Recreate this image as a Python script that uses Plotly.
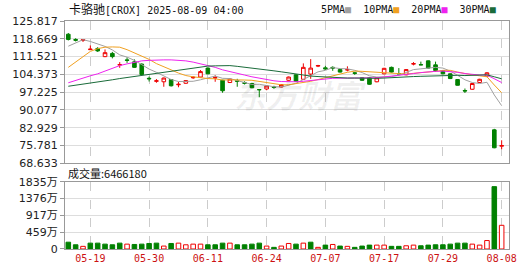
import plotly.graph_objects as go

dates = ["2025-05-14","2025-05-15","2025-05-16","2025-05-19","2025-05-20","2025-05-21","2025-05-22","2025-05-23",
         "2025-05-27","2025-05-28","2025-05-29","2025-05-30",
         "2025-06-02","2025-06-03","2025-06-04","2025-06-05","2025-06-06","2025-06-09","2025-06-10","2025-06-11",
         "2025-06-12","2025-06-13","2025-06-16","2025-06-17","2025-06-18","2025-06-20","2025-06-23","2025-06-24",
         "2025-06-25","2025-06-26","2025-06-27","2025-06-30",
         "2025-07-01","2025-07-02","2025-07-03","2025-07-07","2025-07-08","2025-07-09","2025-07-10","2025-07-11",
         "2025-07-14","2025-07-15","2025-07-16","2025-07-17","2025-07-18","2025-07-21","2025-07-22","2025-07-23",
         "2025-07-24","2025-07-25","2025-07-28","2025-07-29","2025-07-30","2025-07-31",
         "2025-08-01","2025-08-04","2025-08-05","2025-08-06","2025-08-07","2025-08-08"]

opens  = [120.5,118.4,118.0,114.3,114.8,111.5,112.8,108.1,110.2,109.4,108.5,102.8,101.6,101.4,102.3,100.2,100.8,103.0,103.3,106.9,
          102.9,102.0,101.1,101.8,101.0,100.7,98.3,98.5,99.3,99.3,102.0,104.2,102.4,104.5,107.7,107.0,107.2,106.3,106.1,105.0,
          103.0,103.0,101.4,104.6,107.2,104.7,104.2,108.5,108.3,109.8,108.2,105.9,104.6,102.3,97.9,98.4,101.1,103.7,82.1,75.5]
highs  = [121.0,118.9,118.6,116.0,115.3,114.4,113.4,109.3,111.2,110.4,108.8,103.5,102.5,103.1,102.5,101.3,102.1,103.6,106.1,107.2,
          104.0,102.2,102.8,102.6,101.6,101.0,98.4,100.0,99.8,100.5,103.5,104.4,108.8,110.5,108.2,107.8,107.6,106.5,107.6,105.4,
          103.2,103.2,103.3,107.0,107.5,106.9,106.5,109.3,109.5,110.0,109.5,106.1,104.8,102.5,98.7,100.9,102.6,105.3,82.5,77.9]
lows   = [118.0,117.6,117.4,114.2,113.4,111.3,110.8,107.0,109.0,107.0,104.2,101.5,101.0,99.4,99.5,99.2,100.6,102.6,103.1,104.4,
          101.4,97.0,100.9,99.4,100.3,98.8,95.2,98.0,98.6,99.1,101.8,101.4,102.2,102.6,107.3,106.2,105.8,105.1,105.6,104.2,
          101.8,100.2,101.2,104.4,105.1,104.5,104.0,108.0,108.1,106.7,105.4,104.4,102.5,99.9,96.9,98.2,100.9,103.5,74.7,74.3]
closes = [118.4,118.1,118.3,114.5,113.8,113.1,111.5,108.3,110.0,107.2,104.3,102.6,101.8,102.9,99.8,100.4,101.9,103.2,105.5,104.6,
          103.1,97.8,102.5,101.6,100.8,99.0,98.2,99.7,99.1,100.3,103.3,101.6,107.2,106.9,107.9,106.6,106.9,105.3,106.3,104.8,
          102.0,100.4,103.0,106.8,105.3,104.6,106.3,108.7,108.2,106.9,105.9,104.6,102.7,100.0,97.7,100.7,102.4,105.0,74.9,75.8]

ma5  = [115.7,117.0,118.3,117.6,116.6,115.6,114.2,112.2,111.3,110.0,108.3,106.5,105.2,103.8,102.3,101.5,101.4,101.6,102.2,103.1,
        103.7,102.8,102.7,101.9,101.2,100.3,100.4,99.9,99.4,99.3,100.1,100.8,102.3,103.9,105.4,106.0,107.1,106.7,106.6,106.0,
        105.1,103.8,103.3,103.4,103.5,104.0,105.2,106.3,106.6,106.9,107.2,106.9,105.7,104.0,102.2,101.1,100.7,101.2,96.1,91.8]
ma10 = [107.2,109.4,111.7,113.6,114.7,115.3,115.4,115.3,114.3,113.0,111.9,110.4,108.7,107.6,106.2,104.9,103.9,103.4,103.0,102.7,
        102.6,102.1,102.2,102.0,102.1,102.0,101.6,101.3,100.6,100.2,100.2,100.6,101.1,101.6,102.3,103.1,104.0,104.5,105.2,105.7,
        105.6,105.4,105.0,105.0,104.7,104.5,104.5,104.8,105.0,105.2,105.6,106.0,106.0,105.3,104.6,104.2,103.8,103.4,100.1,97.0]
ma20 = [101.0,102.0,103.0,103.8,104.6,105.8,107.0,107.9,108.6,109.3,109.8,110.0,110.2,110.2,110.2,110.0,109.8,109.3,108.7,108.0,
        107.2,106.2,105.4,104.8,104.1,103.4,102.8,102.3,101.8,101.5,101.4,101.4,101.6,101.8,102.2,102.5,102.8,102.9,102.9,102.9,
        102.9,103.0,103.0,103.3,103.5,103.8,104.2,104.7,105.1,105.5,105.6,105.7,105.5,105.2,104.7,104.4,104.1,104.1,102.5,101.1]
ma30 = [99.6,100.0,100.4,100.8,101.2,101.7,102.2,102.7,103.1,103.6,104.0,104.4,104.8,105.2,105.6,106.0,106.6,107.0,107.4,107.7,
        107.8,107.9,107.9,107.6,107.3,106.9,106.5,106.2,105.8,105.4,104.9,104.4,104.0,103.7,103.5,103.3,103.2,103.1,102.9,102.9,
        102.8,102.7,102.8,102.9,103.1,103.2,103.4,103.5,103.6,103.7,103.8,104.0,104.0,104.0,103.9,103.9,104.1,104.2,103.4,102.6]

# volume in units of 万 shares
volume = [186,115,72,160,160,133,115,160,133,124,133,151,160,80,151,160,115,133,133,115,
          115,160,160,115,115,133,160,80,45,80,151,133,160,186,45,106,124,80,72,45,
          80,106,106,106,72,72,88,106,88,106,115,115,133,160,160,133,106,231,1702,646.618]

price_ticks = [68.633, 75.781, 82.929, 90.077, 97.225, 104.373, 111.521, 118.669, 125.817]
vol_ticks = [0, 459, 917, 1376, 1835]
vol_tick_text = ["0", "459万", "917万", "1376万", "1835万"]
x_tick_dates = ["2025-05-19", "2025-05-30", "2025-06-11", "2025-06-24", "2025-07-07", "2025-07-17", "2025-07-29", "2025-08-08"]
x_tick_text = ["05-19", "05-30", "06-11", "06-24", "07-07", "07-17", "07-29", "08-08"]

RED = "#ee0000"
GREEN = "#008000"
MA_COLORS = {"5PMA": "#a0a0a0", "10PMA": "#f0a020", "20PMA": "#ee22ee", "30PMA": "#1a6b3a"}

fig = go.Figure()

fig.add_trace(go.Candlestick(
    x=dates, open=opens, high=highs, low=lows, close=closes,
    increasing=dict(line=dict(color=RED, width=1), fillcolor="white"),
    decreasing=dict(line=dict(color=GREEN, width=1), fillcolor=GREEN),
    xaxis="x", yaxis="y", showlegend=False, hoverinfo="skip"))

for name, vals in [("5PMA", ma5), ("10PMA", ma10), ("20PMA", ma20), ("30PMA", ma30)]:
    fig.add_trace(go.Scatter(x=dates, y=vals, mode="lines", line=dict(color=MA_COLORS[name], width=1),
                             xaxis="x", yaxis="y", showlegend=False, hoverinfo="skip"))

vol_fill, vol_line = [], []
for i in range(len(volume)):
    ref = closes[i - 1] if i > 0 else opens[i]
    up = closes[i] > ref
    vol_fill.append("white" if up else GREEN)
    vol_line.append(RED if up else GREEN)

fig.add_trace(go.Bar(x=dates, y=volume, width=0.62,
                     marker=dict(color=vol_fill, line=dict(color=vol_line, width=1)),
                     xaxis="x2", yaxis="y2", showlegend=False, hoverinfo="skip"))

L, R, T, B = 55, 21, 21, 21
W, H = 530, 276
PH = H - T - B
PW = W - L - R

def py(pix):
    return (H - B - pix) / PH

def px(pix):
    return (pix - L) / PW

tick_font = dict(family="DejaVu Sans, Noto Sans CJK SC", size=11, color="#222")

fig.update_layout(
    width=W, height=H, margin=dict(l=L, r=R, t=T, b=B),
    paper_bgcolor="white", plot_bgcolor="white",
    bargap=0.3,
    xaxis=dict(type="category", range=[-0.45, 60], domain=[0, 1], anchor="y",
               tickvals=x_tick_dates, showticklabels=False, ticks="",
               showgrid=True, gridcolor="#cccccc", griddash="dash", gridwidth=1,
               showline=True, linecolor="#999999", mirror=True, zeroline=False,
               rangeslider=dict(visible=False)),
    xaxis2=dict(type="category", matches="x", range=[-0.45, 60], domain=[0, 1], anchor="y2",
                tickvals=x_tick_dates, ticktext=x_tick_text, ticks="",
                tickfont=dict(family="DejaVu Sans Mono", size=10, color="#cc1111"),
                showgrid=True, gridcolor="#cccccc", griddash="dash", gridwidth=1,
                showline=True, linecolor="#999999", mirror=True, zeroline=False,
                rangeslider=dict(visible=False)),
    yaxis=dict(domain=[py(167.1), 1], range=[68.633, 125.817],
               tickvals=price_ticks, ticktext=[f"{v:.3f}" for v in price_ticks],
               tickfont=tick_font, ticks="outside", ticklen=4, tickcolor="#999999",
               showgrid=True, gridcolor="#dddddd", gridwidth=1,
               showline=True, linecolor="#999999", mirror=True, zeroline=False),
    yaxis2=dict(domain=[0, py(186)], range=[0, 1835],
                tickvals=vol_ticks, ticktext=vol_tick_text,
                tickfont=tick_font, ticks="outside", ticklen=4, tickcolor="#999999",
                showgrid=True, gridcolor="#dddddd", gridwidth=1,
                showline=True, linecolor="#999999", mirror=True, zeroline=False),
)

legend_text = "  ".join(
    f"{n}<span style='color:{c}'>■</span>" for n, c in MA_COLORS.items())

fig.add_annotation(xref="paper", yref="paper", x=px(57), y=py(9), xanchor="left", yanchor="middle",
                   text="<span style='font-size:12px'>卡骆驰</span>[CROX] 2025-08-09 04:00",
                   showarrow=False, font=dict(family="DejaVu Sans Mono, Noto Sans CJK SC", size=10, color="#111"))
fig.add_annotation(xref="paper", yref="paper", x=px(498), y=py(9), xanchor="right", yanchor="middle",
                   text=legend_text, showarrow=False,
                   font=dict(family="DejaVu Sans Mono, Noto Sans CJK SC", size=10, color="#111"))
fig.add_annotation(xref="paper", yref="paper", x=px(56), y=py(177), xanchor="left", yanchor="middle",
                   text="成交量:6466180", showarrow=False,
                   font=dict(family="Noto Sans CJK SC, DejaVu Sans", size=11, color="#111"))
fig.add_annotation(xref="paper", yref="paper", x=px(296), y=py(96), xanchor="center", yanchor="middle",
                   text="<b><i>东方财富</i></b>", showarrow=False,
                   font=dict(family="Noto Sans CJK SC", size=32, color="rgba(0,0,0,0.06)"))

fig.write_html("out.html")
